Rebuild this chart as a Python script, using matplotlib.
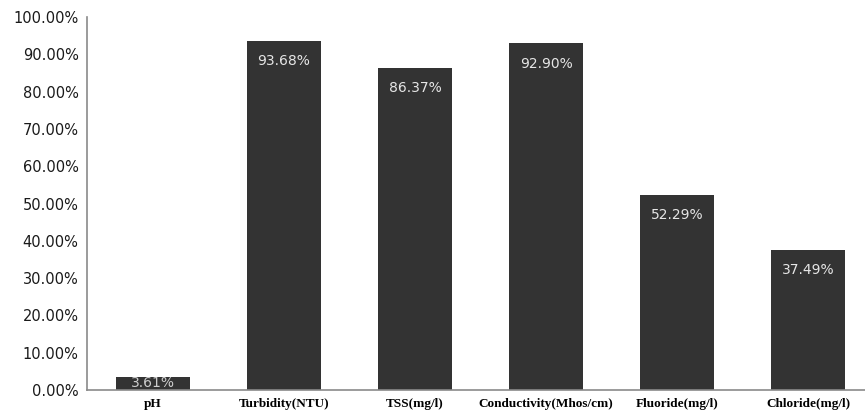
import matplotlib
matplotlib.use("Agg")
import matplotlib.pyplot as plt
from matplotlib.ticker import FuncFormatter

categories = ["pH", "Turbidity(NTU)", "TSS(mg/l)", "Conductivity(Mhos/cm)", "Fluoride(mg/l)", "Chloride(mg/l)"]
values = [3.61, 93.68, 86.37, 92.90, 52.29, 37.49]
yticks = [0, 10, 20, 30, 40, 50, 60, 70, 80, 90, 100]

fig = plt.figure(figsize=(8.65, 4.18), dpi=100)
ax = fig.add_axes([87 / 865, 1 - 390 / 418, 787 / 865, 373 / 418])

x = list(range(len(categories)))
bars = ax.bar(x, values, width=0.565, color="#333333", zorder=2)

for xi, v in zip(x, values):
    if v > 10:
        ax.text(xi, v - 3.5, f"{v:.2f}%", ha="center", va="top", color="#e6e6e6",
                fontsize=10, family="DejaVu Sans")
    else:
        ax.text(xi, v / 2, f"{v:.2f}%", ha="center", va="center", color="#cfcfcf",
                fontsize=10, family="DejaVu Sans")

ax.set_xlim(-0.5, len(categories) - 0.5)
ax.set_ylim(0, 100)
ax.set_yticks(yticks)
ax.yaxis.set_major_formatter(FuncFormatter(lambda v, p: f"{v:.2f}%"))
ax.set_xticks(x)
ax.set_xticklabels(categories, family="Liberation Serif", fontweight="bold", fontsize=9.5)
for lab in ax.get_yticklabels():
    lab.set_fontsize(10.5)
    lab.set_color("#1a1a1a")
ax.tick_params(axis="both", length=0)
ax.tick_params(axis="y", pad=6)
ax.tick_params(axis="x", pad=6)

for side in ("top", "right"):
    ax.spines[side].set_visible(False)
for side in ("left", "bottom"):
    ax.spines[side].set_color("#8a8a8a")
    ax.spines[side].set_linewidth(1.2)

fig.savefig("out.png", dpi=100)
